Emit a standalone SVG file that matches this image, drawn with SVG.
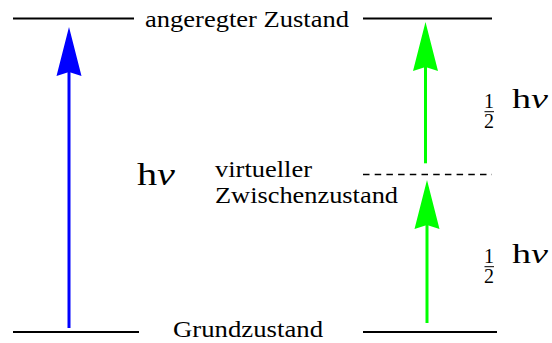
<svg xmlns="http://www.w3.org/2000/svg" width="552" height="343" viewBox="0 0 552 343">
<style>
.lvl{stroke:#000;stroke-width:2;fill:none}
.dash{stroke:#000;stroke-width:1.6;stroke-dasharray:6.5 5.2;fill:none}
.t{font-family:"Liberation Serif","Times New Roman",serif;fill:#000}
.blue{stroke:#0000ff;stroke-width:3;fill:none}
.green{stroke:#00ff00;stroke-width:3;fill:none}
</style>
<defs>
<marker id="ahB" markerUnits="userSpaceOnUse" orient="auto" refX="0" refY="0" overflow="visible" markerWidth="1" markerHeight="1">
<path d="M45,0 L-4,-12.5 L0,0 L-4,12.5 Z" fill="#0000ff"/>
</marker>
<marker id="ahG" markerUnits="userSpaceOnUse" orient="auto" refX="0" refY="0" overflow="visible" markerWidth="1" markerHeight="1">
<path d="M45,0 L-4,-12.5 L0,0 L-4,12.5 Z" fill="#00ff00"/>
</marker>
</defs>
<g id="excited-state">
<line class="lvl" x1="13" y1="18.5" x2="134" y2="18.5"/>
<line class="lvl" x1="363" y1="18.5" x2="492" y2="18.5"/>
<text class="t" x="145" y="27.3" font-size="23" textLength="204" lengthAdjust="spacingAndGlyphs">angeregter Zustand</text>
</g>
<g id="ground-state">
<line class="lvl" x1="13" y1="332" x2="139" y2="332"/>
<line class="lvl" x1="363" y1="332" x2="497" y2="332"/>
<text class="t" x="173" y="336.7" font-size="23" textLength="150" lengthAdjust="spacingAndGlyphs">Grundzustand</text>
</g>
<g id="virtual-state">
<line class="dash" x1="363" y1="174.5" x2="492" y2="174.5"/>
<text class="t" x="215" y="176.7" font-size="23" textLength="97" lengthAdjust="spacingAndGlyphs">virtueller</text>
<text class="t" x="215" y="203.3" font-size="23" textLength="183" lengthAdjust="spacingAndGlyphs">Zwischenzustand</text>
</g>
<g id="label-hv">
<text class="t" x="137" y="185" font-size="31" textLength="38" lengthAdjust="spacingAndGlyphs">h<tspan font-style="italic">ν</tspan></text>
</g>
<g id="label-half-hv-upper">
<text class="t" x="489" y="108" font-size="20" text-anchor="middle">1</text>
<line x1="484.5" y1="111.7" x2="494" y2="111.7" stroke="#000" stroke-width="1"/>
<text class="t" x="489" y="128" font-size="20" text-anchor="middle">2</text>
<text class="t" x="512" y="108.3" font-size="28" textLength="36" lengthAdjust="spacingAndGlyphs">h<tspan font-style="italic">ν</tspan></text>
</g>
<g id="label-half-hv-lower">
<text class="t" x="489" y="263" font-size="20" text-anchor="middle">1</text>
<line x1="484.5" y1="266.7" x2="494" y2="266.7" stroke="#000" stroke-width="1"/>
<text class="t" x="489" y="283" font-size="20" text-anchor="middle">2</text>
<text class="t" x="512" y="263.3" font-size="28" textLength="36" lengthAdjust="spacingAndGlyphs">h<tspan font-style="italic">ν</tspan></text>
</g>
<g id="connectors">
<line class="blue" x1="69" y1="328" x2="69" y2="72" marker-end="url(#ahB)"/>
<line class="green" x1="425.5" y1="163.3" x2="425.5" y2="67" marker-end="url(#ahG)"/>
<line class="green" x1="427" y1="323" x2="427" y2="225" marker-end="url(#ahG)"/>
</g>
</svg>
